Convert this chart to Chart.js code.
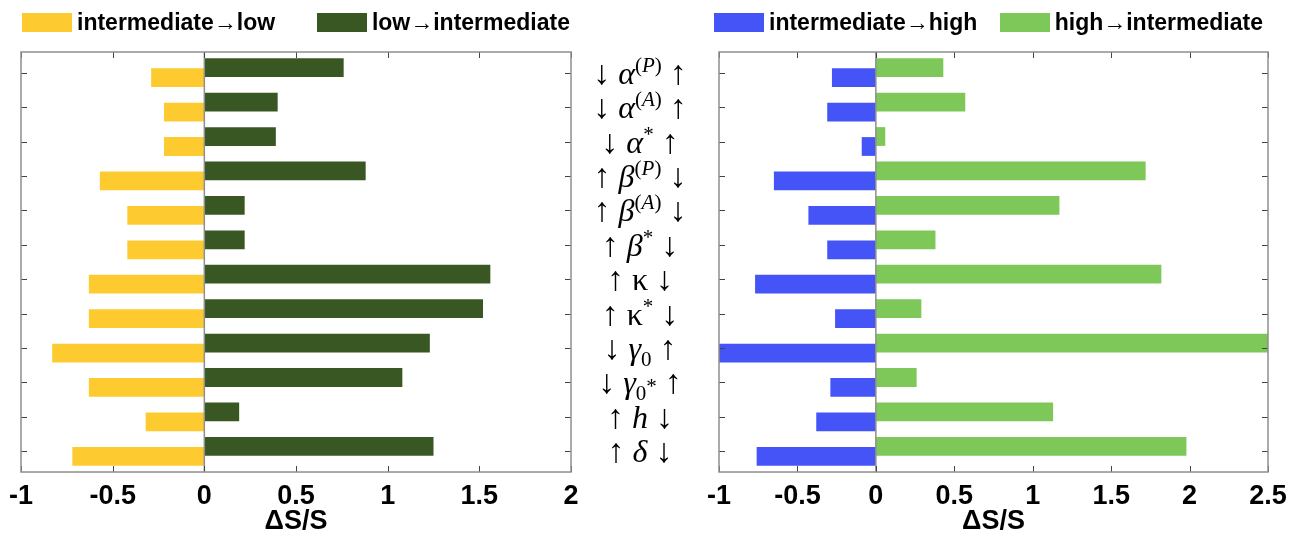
<!DOCTYPE html>
<html>
<head>
<meta charset="utf-8">
<title>Sensitivity of S</title>
<script src="https://cdn.jsdelivr.net/npm/chart.js@4.4.1/dist/chart.umd.min.js"></script>
<style>
  body { margin: 0; background: #fff; }
  #wrap { position: relative; width: 1303px; height: 542px; overflow: hidden; }
  canvas { position: absolute; top: 0; }
  #leftChart { left: -10px; }
  #rightChart { left: 580px; }
  .legend {
    position: absolute; top: 12px; height: 20px;
    display: flex; justify-content: space-between; align-items: center;
    font: bold 23px "Liberation Sans", Arial, sans-serif; color: #000;
  }
  .legend .item { display: flex; align-items: center; white-space: nowrap; }
  .legend .box { display: inline-block; width: 50px; height: 19px; margin-right: 5px; }
  #leftLegend { left: 22px; width: 548px; }
  #rightLegend { left: 714px; width: 549px; }
</style>
</head>
<body>
<div id="wrap">
  <canvas id="leftChart" width="610" height="542"></canvas>
  <canvas id="rightChart" width="723" height="542"></canvas>
  <div class="legend" id="leftLegend"></div>
  <div class="legend" id="rightLegend"></div>
</div>
<script>
// parametres (top to bottom); ^{..} = exposant, _{..} = indice
const categories = [
  '↓ α^{(P)} ↑', '↓ α^{(A)} ↑', '↓ α^{*} ↑',
  '↑ β^{(P)} ↓', '↑ β^{(A)} ↓', '↑ β^{*} ↓',
  '↑ κ ↓', '↑ κ^{*} ↓',
  '↓ γ_{0} ↑', '↓ γ_{0}^{*} ↑',
  '↑ h ↓', '↑ δ ↓'
];

// left panel
const lowToIntermediate = [0.76, 0.40, 0.39, 0.88, 0.22, 0.22, 1.56, 1.52, 1.23, 1.08, 0.19, 1.25];
const intermediateToLow = [-0.29, -0.22, -0.22, -0.57, -0.42, -0.42, -0.63, -0.63, -0.83, -0.63, -0.32, -0.72];

// right panel
const highToIntermediate = [0.43, 0.57, 0.06, 1.72, 1.17, 0.38, 1.82, 0.29, 2.5, 0.26, 1.13, 1.98];
const intermediateToHigh = [-0.28, -0.31, -0.09, -0.65, -0.43, -0.31, -0.77, -0.26, -1.0, -0.29, -0.38, -0.76];

const leftTicks = ['-1', '-0.5', '0', '0.5', '1', '1.5', '2'];
const rightTicks = ['-1', '-0.5', '0', '0.5', '1', '1.5', '2', '2.5'];

const SANS = '"Liberation Sans", Arial, sans-serif';
const SERIF = '"Liberation Serif", "DejaVu Serif", serif';

function toPoints(values) {
  return values.map((v, i) => ({ x: v, y: i + 1 }));
}

// cadre + petites graduations vers l'interieur + ligne de base a zero
const framePlugin = {
  id: 'frame',
  afterDatasetsDraw(chart) {
    const { ctx, chartArea: a, scales: { x, y } } = chart;
    ctx.save();
    const x0 = x.getPixelForValue(0);
    ctx.strokeStyle = '#8f8f8f';
    ctx.lineWidth = 1.5;
    ctx.beginPath();
    ctx.moveTo(x0, a.top);
    ctx.lineTo(x0, a.bottom);
    ctx.stroke();

    ctx.strokeStyle = '#444';
    ctx.lineWidth = 1;
    ctx.beginPath();
    x.ticks.forEach((t) => {
      const px = Math.round(x.getPixelForValue(t.value)) + 0.5;
      ctx.moveTo(px, a.top); ctx.lineTo(px, a.top + 6);
      ctx.moveTo(px, a.bottom); ctx.lineTo(px, a.bottom - 6);
    });
    categories.forEach((c, i) => {
      const py = Math.round(y.getPixelForValue(i + 1)) + 0.5;
      ctx.moveTo(a.left, py); ctx.lineTo(a.left + 6, py);
      ctx.moveTo(a.right, py); ctx.lineTo(a.right - 6, py);
    });
    ctx.stroke();

    ctx.strokeStyle = '#8f8f8f';
    ctx.lineWidth = 1.5;
    ctx.strokeRect(a.left, a.top, a.right - a.left, a.bottom - a.top);
    ctx.restore();
  }
};

// decoupe un libelle en morceaux (normal / exposant / indice)
function parseLabel(label) {
  const runs = [];
  let i = 0;
  while (i < label.length) {
    const ch = label[i];
    if ((ch === '^' || ch === '_') && label[i + 1] === '{') {
      const end = label.indexOf('}', i);
      runs.push({ text: label.slice(i + 2, end), mode: ch === '^' ? 'sup' : 'sub' });
      i = end + 1;
    } else {
      runs.push({ text: ch, mode: 'normal' });
      i++;
    }
  }
  return runs;
}

function isItalic(ch) {
  return /[a-zA-Zαβγδh]/.test(ch);
}

// libelles des parametres, a gauche du panneau de droite
const paramLabelPlugin = {
  id: 'paramLabels',
  afterDraw(chart) {
    const { ctx, chartArea: a, scales: { y } } = chart;
    const cx = a.left - 79;
    ctx.save();
    ctx.fillStyle = '#000';
    ctx.textBaseline = 'alphabetic';
    categories.forEach((label, i) => {
      const base = y.getPixelForValue(i + 1) + 11;
      const pieces = [];
      let prev = 'normal';
      parseLabel(label).forEach((run) => {
        for (const ch of run.text) {
          const arrow = ch === '↑' || ch === '↓';
          const size = run.mode === 'normal' ? (arrow ? 34 : 32) : 21;
          let dy = 0;
          if (run.mode === 'sup') dy = prev === 'sub' ? 0 : -12;
          if (run.mode === 'sub') dy = 7;
          const font = (isItalic(ch) ? 'italic ' : '') + size + 'px ' + SERIF;
          ctx.font = font;
          pieces.push({ ch, font, dy, w: ctx.measureText(ch).width });
        }
        prev = run.mode;
      });
      const total = pieces.reduce((s, p) => s + p.w, 0);
      let px = cx - total / 2;
      pieces.forEach((p) => {
        ctx.font = p.font;
        ctx.fillText(p.ch, px, base + p.dy);
        px += p.w;
      });
    });
    ctx.restore();
  }
};

function makeOptions(tickLabels, min, max, padding) {
  return {
    responsive: false,
    animation: false,
    indexAxis: 'y',
    layout: { padding },
    plugins: { legend: { display: false }, tooltip: { enabled: false } },
    scales: {
      x: {
        type: 'linear', min, max,
        grid: { display: false, drawTicks: false },
        border: { display: false },
        ticks: {
          stepSize: 0.5, autoSkip: false, maxRotation: 0, padding: 11, color: '#000',
          font: { family: SANS, size: 27, weight: 'bold', lineHeight: 1 },
          callback: (v, i) => tickLabels[i]
        },
        title: {
          display: true, text: 'ΔS/S', color: '#000', padding: { top: -13, bottom: 0 },
          font: { family: SANS, size: 27, weight: 'bold', lineHeight: 1 }
        }
      },
      y: {
        type: 'linear', min: 0.4, max: 12.6, reverse: true, display: false, offset: false,
        ticks: { stepSize: 1, includeBounds: false }
      }
    }
  };
}

function barSet(label, values, color) {
  return {
    label, data: toPoints(values), backgroundColor: color, borderWidth: 0,
    categoryPercentage: 0.58, barPercentage: 1.88
  };
}

function buildLegend(chart, el) {
  el.innerHTML = '';
  chart.data.datasets.slice().reverse().forEach((ds) => {
    const item = document.createElement('span');
    item.className = 'item';
    const box = document.createElement('span');
    box.className = 'box';
    box.style.background = ds.backgroundColor;
    item.appendChild(box);
    item.appendChild(document.createTextNode(ds.label));
    el.appendChild(item);
  });
}

const leftChart = new Chart(document.getElementById('leftChart'), {
  type: 'bar',
  data: {
    datasets: [
      barSet('low→intermediate', lowToIntermediate, '#385723'),
      barSet('intermediate→low', intermediateToLow, '#FDCB30')
    ]
  },
  options: makeOptions(leftTicks, -1, 2, { left: 31, right: 29, top: 52, bottom: 7 }),
  plugins: [framePlugin]
});

const rightChart = new Chart(document.getElementById('rightChart'), {
  type: 'bar',
  data: {
    datasets: [
      barSet('high→intermediate', highToIntermediate, '#7DC858'),
      barSet('intermediate→high', intermediateToHigh, '#4454F6')
    ]
  },
  options: makeOptions(rightTicks, -1, 2.5, { left: 139, right: 35, top: 52, bottom: 7 }),
  plugins: [framePlugin, paramLabelPlugin]
});

buildLegend(leftChart, document.getElementById('leftLegend'));
buildLegend(rightChart, document.getElementById('rightLegend'));
</script>
</body>
</html>
